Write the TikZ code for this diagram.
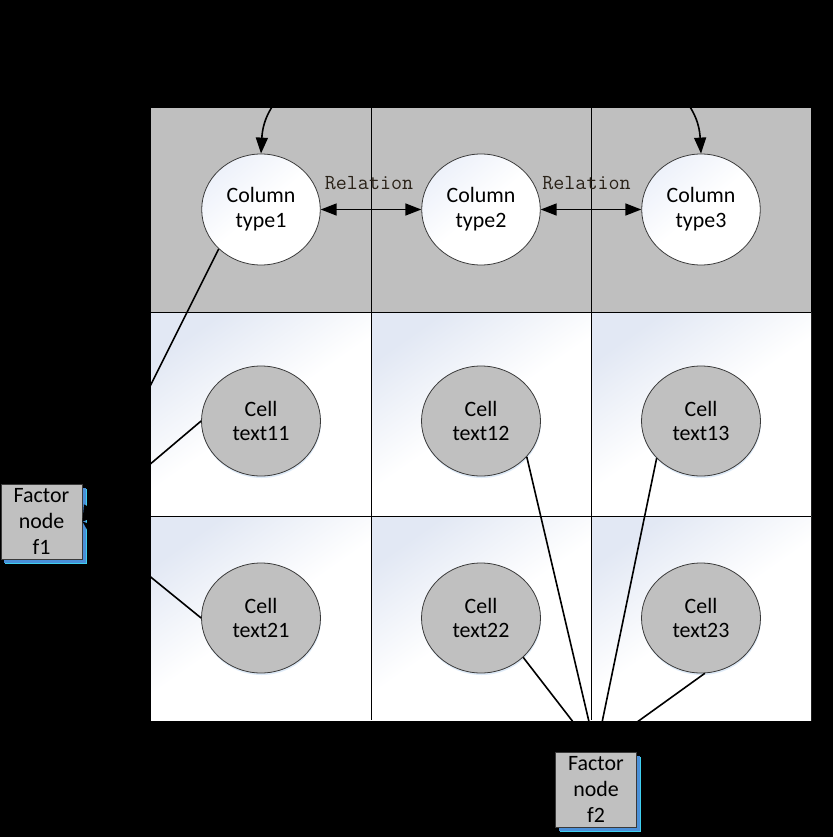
\documentclass[tikz,border=0pt]{standalone}
\usepackage{fontspec}
\setmainfont{Carlito}
\usetikzlibrary{arrows.meta,shapes.geometric,shadows}

\definecolor{headgray}{HTML}{BFBFBF}
\definecolor{nodegray}{HTML}{C0C0C0}
\definecolor{rimgray}{HTML}{3A3A3A}
\definecolor{paleblue}{HTML}{E2E8F4}
\definecolor{colblue}{HTML}{EDF1FA}
\definecolor{shadowblue}{HTML}{4A8FD8}
\definecolor{shadowcyan}{HTML}{3FD0F0}
\definecolor{reltext}{HTML}{2A2218}

\tikzset{
  coltype/.style={ellipse, draw=rimgray, line width=0.8bp,
    top color=colblue, bottom color=white, middle color=white, shading angle=40,
    minimum width=118.6bp, minimum height=111bp, inner sep=0pt,
    align=center, font=\fontsize{22}{25}\selectfont},
  celltext/.style={ellipse, draw=rimgray, line width=0.8bp, fill=nodegray,
    drop shadow={shadow xshift=0.5bp, shadow yshift=-2bp, fill=shadowblue, opacity=0.18},
    minimum width=119bp, minimum height=110bp, inner sep=0pt,
    align=center, font=\fontsize{22}{25}\selectfont},
  factorbox/.style={rectangle, draw=rimgray, line width=0.8bp, fill=nodegray,
    drop shadow={shadow xshift=4.5bp, shadow yshift=-4.5bp, fill=shadowcyan, opacity=1},
    drop shadow={shadow xshift=3.5bp, shadow yshift=-3.5bp, fill=shadowblue, opacity=1},
    minimum width=81bp, minimum height=75bp, inner sep=0pt,
    align=center, font=\fontsize{22}{26}\selectfont},
  gridline/.style={draw=black, line width=0.9bp},
  link/.style={draw=black, line width=1.6bp},
  tip/.style={-{Triangle[length=16bp,width=12bp]}},
  reltag/.style={font=\ttfamily\fontsize{21.5}{21.5}\selectfont, text=reltext, inner sep=0pt}
}

\begin{document}
\begin{tikzpicture}[x=1bp, y=-1bp]
  % page and black ground
  \fill[black] (0,0) rectangle (833,837);
  \useasboundingbox (0,0) rectangle (833,837);

  % header row
  \fill[headgray] (151,108) rectangle (811,312);
  % body cells with soft bluish wash from the upper left
  \foreach \cx in {151,371,591} {
    \foreach \cy in {312,516} {
      \shade[top color=paleblue, bottom color=white, middle color=white, shading angle=35]
        (\cx,\cy) rectangle ++(220,204);
    }
  }
  % grid
  \draw[gridline] (371,108) -- (371,720);
  \draw[gridline] (591,108) -- (591,720);
  \draw[gridline] (151,312) -- (811,312);
  \draw[gridline] (151,516) -- (811,516);

  % column type nodes
  \node[coltype] (ct1) at (261,209.5) {Column\\type1};
  \node[coltype] (ct2) at (481,209.5) {Column\\type2};
  \node[coltype] (ct3) at (701,209.5) {Column\\type3};

  % cell text nodes
  \node[celltext] (c11) at (261,421) {Cell\\text11};
  \node[celltext] (c12) at (481,421) {Cell\\text12};
  \node[celltext] (c13) at (701,421) {Cell\\text13};
  \node[celltext] (c21) at (261,618) {Cell\\text21};
  \node[celltext] (c22) at (481,618) {Cell\\text22};
  \node[celltext] (c23) at (701,618) {Cell\\text23};

  % factor nodes
  \node[factorbox] (f1) at (41.5,521.5) {Factor\\node\\f1};
  \node[factorbox] (f2) at (596,789.5) {Factor\\node\\f2};

  % relations between column types
  \draw[link, {Triangle[length=16bp,width=12bp]}-{Triangle[length=16bp,width=12bp]}]
    (ct1.east) -- (ct2.west);
  \draw[link, {Triangle[length=16bp,width=12bp]}-{Triangle[length=16bp,width=12bp]}]
    (ct2.east) -- (ct3.west);
  \node[reltag] (r1) at (369,183) {Relation};
  \node[reltag] (r2) at (586.5,183) {Relation};

  % long relation over the header
  \draw[link, {Triangle[length=16bp,width=12bp]}-{Triangle[length=16bp,width=12bp]}]
    (ct1.north) .. controls +(8,-150) and +(-8,-150) .. (ct3.north);

  % links into factor node f1
  \draw[link, tip] (ct1.223) -- (f1.east);
  \draw[link, tip] (c11.west) -- (f1.east);
  \draw[link, tip] (c21.west) -- (f1.east);

  % links into factor node f2
  \draw[link, tip] (c12.-38) -- (f2.north);
  \draw[link, tip] (c13.-140) -- (f2.north);
  \draw[link, tip] (c22.-43) -- (f2.north);
  \draw[link, tip] (c23.-86) -- (f2.north);
\end{tikzpicture}
\end{document}
